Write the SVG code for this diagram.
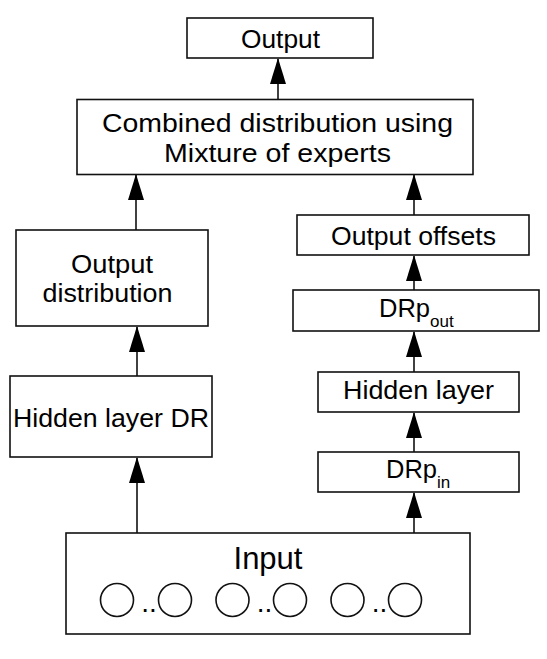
<svg xmlns="http://www.w3.org/2000/svg" width="547" height="659" viewBox="0 0 547 659">
<defs>
<style>
.box{fill:#fff;stroke:#111;stroke-width:1.6}
.t{font-family:"Liberation Sans",Arial,sans-serif;font-size:25.5px;fill:#000;text-anchor:middle}
.s{font-family:"Liberation Sans",Arial,sans-serif;font-size:17px;fill:#000}
.d{font-family:"Liberation Sans",Arial,sans-serif;font-size:25.5px;fill:#000}
.c{fill:#fff;stroke:#111;stroke-width:1.6}
.e{stroke:#111;stroke-width:1.6;fill:none;marker-end:url(#ah)}
</style>
<marker id="ah" markerUnits="userSpaceOnUse" markerWidth="26" markerHeight="18" viewBox="0 0 26 18" refX="25" refY="9" orient="auto">
<path d="M0,1 L26,9 L0,17 Z" fill="#000"/>
</marker>
</defs>
<rect width="547" height="659" fill="#fff"/>
<g id="connectors">
<line class="e" x1="278" y1="99" x2="278" y2="59"/>
<line class="e" x1="136" y1="230" x2="136" y2="175"/>
<line class="e" x1="414" y1="215" x2="414" y2="175"/>
<line class="e" x1="137" y1="376" x2="137" y2="327"/>
<line class="e" x1="414" y1="290" x2="414" y2="256"/>
<line class="e" x1="414" y1="372" x2="414" y2="332"/>
<line class="e" x1="414" y1="452" x2="414" y2="413"/>
<line class="e" x1="137" y1="533" x2="137" y2="458"/>
<line class="e" x1="414" y1="533" x2="414" y2="493"/>
</g>
<g id="output">
<rect class="box" x="187" y="18" width="186" height="40"/>
<text class="t" x="280.5" y="48" textLength="79" lengthAdjust="spacingAndGlyphs">Output</text>
</g>
<g id="combined">
<rect class="box" x="77" y="99.5" width="396" height="75"/>
<text class="t" x="277.5" y="132" textLength="351" lengthAdjust="spacingAndGlyphs">Combined distribution using</text>
<text class="t" x="277.5" y="162" textLength="227" lengthAdjust="spacingAndGlyphs">Mixture of experts</text>
</g>
<g id="output-distribution">
<rect class="box" x="16" y="230" width="192" height="96"/>
<text class="t" x="112" y="273" textLength="82" lengthAdjust="spacingAndGlyphs">Output</text>
<text class="t" x="107.5" y="302" textLength="130" lengthAdjust="spacingAndGlyphs">distribution</text>
</g>
<g id="hidden-layer-dr">
<rect class="box" x="10" y="376" width="202" height="81"/>
<text class="t" x="111" y="427" textLength="196" lengthAdjust="spacingAndGlyphs">Hidden layer DR</text>
</g>
<g id="output-offsets">
<rect class="box" x="297" y="215" width="232" height="40"/>
<text class="t" x="413.5" y="245" textLength="165" lengthAdjust="spacingAndGlyphs">Output offsets</text>
</g>
<g id="drp-out">
<rect class="box" x="293" y="290" width="246" height="41"/>
<text class="d" x="379" y="317">DRp</text>
<text class="s" x="430" y="327">out</text>
</g>
<g id="hidden-layer">
<rect class="box" x="318" y="372" width="201" height="40"/>
<text class="t" x="418.5" y="399" textLength="151" lengthAdjust="spacingAndGlyphs">Hidden layer</text>
</g>
<g id="drp-in">
<rect class="box" x="318" y="452" width="201" height="40"/>
<text class="d" x="386" y="478">DRp</text>
<text class="s" x="437" y="488">in</text>
</g>
<g id="input">
<rect class="box" x="66" y="533" width="404" height="101"/>
<text class="t" x="268" y="569" style="font-size:31px">Input</text>
<circle class="c" cx="117" cy="600" r="16.5"/>
<circle class="c" cx="175" cy="600" r="16.5"/>
<circle class="c" cx="232.5" cy="600" r="16.5"/>
<circle class="c" cx="290" cy="600" r="16.5"/>
<circle class="c" cx="347.5" cy="600" r="16.5"/>
<circle class="c" cx="405" cy="600" r="16.5"/>
<text class="t" x="149" y="612" style="font-size:28px">..</text>
<text class="t" x="264.5" y="612" style="font-size:28px">..</text>
<text class="t" x="379.5" y="612" style="font-size:28px">..</text>
</g>
</svg>
